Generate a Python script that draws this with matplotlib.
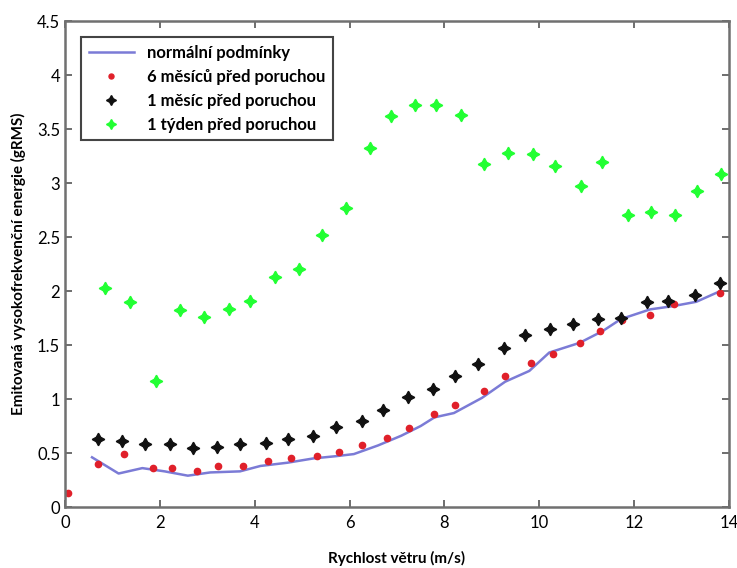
import matplotlib
matplotlib.use("Agg")
import matplotlib.pyplot as plt

plt.rcParams['font.family'] = ['Lato', 'DejaVu Sans']

# normal conditions (line)
x_norm = [0.57, 1.13, 1.63, 2.1, 2.59, 3.06, 3.69, 4.12, 4.69, 5.24, 5.7, 6.09, 6.6, 7.09,
          7.5, 7.79, 8.2, 8.79, 9.28, 9.79, 10.21, 10.85, 11.34, 11.72, 12.34, 12.82, 13.31, 13.82]
y_norm = [0.46, 0.31, 0.36, 0.33, 0.29, 0.32, 0.33, 0.38, 0.41, 0.45, 0.47, 0.49, 0.57, 0.66,
          0.75, 0.83, 0.87, 1.01, 1.16, 1.26, 1.43, 1.52, 1.63, 1.74, 1.83, 1.86, 1.90, 2.00]

# 6 months before failure
x_6m = [0.07, 0.70, 1.25, 1.85, 2.25, 2.78, 3.23, 3.76, 4.27, 4.76, 5.31, 5.78, 6.26, 6.79,
        7.26, 7.77, 8.22, 8.83, 9.28, 9.83, 10.28, 10.85, 11.29, 11.74, 12.34, 12.84, 13.82]
y_6m = [0.13, 0.40, 0.49, 0.36, 0.36, 0.33, 0.38, 0.38, 0.43, 0.45, 0.47, 0.51, 0.57, 0.64,
        0.73, 0.86, 0.94, 1.07, 1.21, 1.33, 1.42, 1.52, 1.63, 1.73, 1.78, 1.88, 1.98]

# 1 month before failure
x_1m = [0.70, 1.21, 1.68, 2.21, 2.70, 3.21, 3.69, 4.23, 4.71, 5.22, 5.71, 6.26, 6.71,
        7.24, 7.75, 8.22, 8.70, 9.26, 9.70, 10.23, 10.72, 11.23, 11.72, 12.27, 12.72, 13.29, 13.82]
y_1m = [0.63, 0.61, 0.58, 0.58, 0.55, 0.56, 0.58, 0.59, 0.63, 0.66, 0.74, 0.80, 0.90,
        1.02, 1.09, 1.21, 1.32, 1.47, 1.59, 1.65, 1.69, 1.74, 1.75, 1.90, 1.91, 1.96, 2.07]

# 1 week before failure
x_1w = [0.85, 1.38, 1.91, 2.42, 2.93, 3.46, 3.91, 4.42, 4.93, 5.41, 5.92, 6.43, 6.88, 7.39,
        7.83, 8.34, 8.83, 9.34, 9.87, 10.34, 10.89, 11.32, 11.87, 12.36, 12.87, 13.33, 13.84]
y_1w = [2.03, 1.90, 1.17, 1.82, 1.76, 1.83, 1.91, 2.13, 2.20, 2.52, 2.77, 3.32, 3.62, 3.72,
        3.72, 3.63, 3.18, 3.28, 3.27, 3.16, 2.97, 3.19, 2.70, 2.73, 2.70, 2.93, 3.08]

fig = plt.figure(figsize=(7.37, 5.68), dpi=100)
ax = fig.add_axes([65 / 737, 1 - 507 / 568, 664 / 737, 486 / 568])

star = (4, 1, 0)
ax.plot(x_norm, y_norm, color="#7b7bd6", lw=1.8, label="normální podmínky")
ax.plot(x_6m, y_6m, ls="none", marker="o", ms=4.5, color="#e0202a", label="6 měsíců před poruchou")
ax.plot(x_1m, y_1m, ls="none", marker=star, ms=9, color="#111111", label="1 měsíc před poruchou")
ax.plot(x_1w, y_1w, ls="none", marker=star, ms=9, color="#22ff33", label="1 týden před poruchou")

ax.set_xlim(0, 14)
ax.set_ylim(0, 4.5)
ax.set_xticks(range(0, 15, 2))
ax.set_yticks([0, 0.5, 1, 1.5, 2, 2.5, 3, 3.5, 4, 4.5])
ax.set_yticklabels(["0", "0.5", "1", "1.5", "2", "2.5", "3", "3.5", "4", "4.5"])
ax.tick_params(direction="in", top=True, right=True, length=5, width=1.2, color="#555555",
               labelsize=12)
ax.tick_params(axis="x", pad=6)
for s in ax.spines.values():
    s.set_color("#707070")
    s.set_linewidth(1.8)

ax.set_xlabel("Rychlost větru (m/s)", fontsize=11, fontweight="bold", labelpad=14)
ax.set_ylabel("Emitovaná vysokofrekvenční energie (gRMS)", fontsize=11, fontweight="bold", labelpad=8)

leg = ax.legend(loc="upper left", bbox_to_anchor=(0.012, 0.984), fancybox=False, framealpha=1,
                edgecolor="#444444", prop={"weight": "bold", "size": 12}, handlelength=2.7,
                labelspacing=0.48, borderpad=0.45, markerscale=0.8)
leg.get_frame().set_linewidth(1.5)

fig.savefig("out.png", dpi=100)
